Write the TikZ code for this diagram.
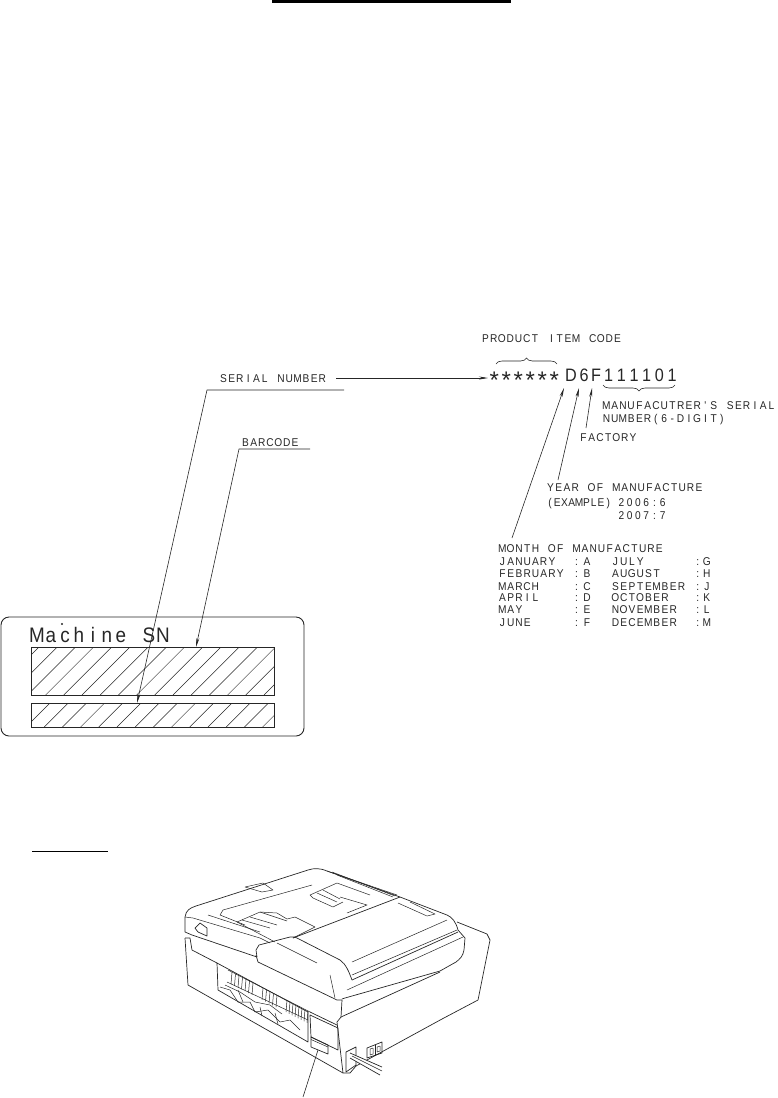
\documentclass[tikz,border=0pt]{standalone}
\usepackage{fontspec}
\usepackage{tikz}
\usetikzlibrary{arrows.meta,decorations.pathreplacing}
\setmainfont{Liberation Sans}
\newfontfamily\cadfont[FakeStretch=.9]{Liberation Sans}
% letters sit at a fixed pitch, as on a plotter
\makeatletter
\newcommand\pitched[2][8.25pt]{\@tfor\onechar:=#2\do{\makebox[#1][c]{\onechar}}}
\makeatother

\begin{document}
\begin{tikzpicture}[x=1pt,y=-1pt,>={Stealth[length=9pt,width=3pt]},line width=.6pt,black!85]
  \tikzstyle{every node}=[inner sep=0pt,anchor=base west,text=black!85]
  \tikzstyle{cad}=[font=\cadfont\fontsize{11.3}{12}\selectfont,yshift=-4pt,xshift=-1pt]
  \tikzstyle{code}=[font=\cadfont\fontsize{18}{18}\selectfont,yshift=-6.5pt,anchor=base]
  \tikzstyle{hatchbox}=[draw,anchor=north west]
  \tikzstyle{bracetip}=[decorate,decoration={brace,amplitude=6pt}]
  \tikzstyle{outer}=[line width=.7pt,line join=round]
  \tikzstyle{inner}=[line width=.5pt,line join=round]

  \useasboundingbox (0,0) rectangle (777,1098);

  \fill[black] (272,0) rectangle (511,3);
  \draw[black,line width=1pt] (32,851.5) -- (107.5,851.5);

  % labels on the right
  \node[cad] (itemcode) at (482,338) {\pitched{PRODUCT~ITEM~CODE}};
  \node[anchor=base west,font=\fontsize{24}{24}\selectfont] (stars) at (488,388.5) {\pitched[12pt]{******}};
  \node[code] (D) at (571,375) {D};
  \node[code] (six) at (584,375) {6};
  \node[code] (F) at (596,375) {F};
  \node[code,anchor=base west] (digits) at (602,375) {\pitched[12.7pt]{111101}};
  \node[cad] (serial1) at (603,405) {\pitched{MANUFACUTRER'S~SERIAL}};
  \node[cad] (serial2) at (603,418) {\pitched{NUMBER(6-DIGIT)}};
  \node[cad] (factory) at (580,437) {\pitched{FACTORY}};
  \node[cad] (year1) at (547,487) {\pitched{YEAR~OF~MANUFACTURE}};
  \node[cad] (year2) at (547,502) {\pitched[7.3pt]{(EXAMPLE)}};
  \node[cad] (y2006) at (618,502) {\pitched{2006:6}};
  \node[cad] (y2007) at (618,515) {\pitched{2007:7}};
  \node[cad] (month) at (499,548) {\pitched{MONTH~OF~MANUFACTURE}};

  \foreach \name/\code/\y in {JANUARY/A/561,FEBRUARY/B/573,MARCH/C/586,APRIL/D/597,MAY/E/609,JUNE/F/622}{
    \node[cad] (m\code) at (499,\y) {\expandafter\pitched\expandafter{\name}};
    \node[cad] (c\code) at (572,\y) {\pitched[10.5pt]{:\code}};
  }
  \foreach \name/\code/\y in {JULY/G/561,AUGUST/H/573,SEPTEMBER/J/586,OCTOBER/K/597,NOVEMBER/L/609,DECEMBER/M/622}{
    \node[cad] (m\code) at (612,\y) {\expandafter\pitched\expandafter{\name}};
    \node[cad] (c\code) at (694,\y) {\pitched[9pt]{:\code}};
  }

  \coordinate (bracea) at (496,364);
  \coordinate (braceb) at (557,364);
  \coordinate (bracec) at (675,385);
  \coordinate (braced) at (603,385);
  \draw[bracetip] (bracea) -- (braceb);
  \draw[bracetip] (bracec) -- (braced);

  \coordinate (monthtail) at (512,538);
  \coordinate (yeartail) at (558,480);
  \coordinate (factorytail) at (586,428);
  \coordinate (Dhead) at (564,388);
  \coordinate (sixhead) at (579,388);
  \coordinate (Fhead) at (592,388);
  \draw[->] (monthtail) -- (Dhead);
  \draw[->] (yeartail) -- (sixhead);
  \draw[->] (factorytail) -- (Fhead);

  % label plate
  \draw[line width=.9pt,rounded corners=8pt] (1,617) rectangle (304,736);
  \node[font=\cadfont\fontsize{21}{21}\selectfont] (machine) at (29.7,642) {\pitched[14pt]{Machine~SN}};
  \fill (62,624) circle (1.1pt);
  \node[hatchbox,minimum width=243pt,minimum height=48pt] (bigbar) at (31,647) {};
  \node[hatchbox,minimum width=243pt,minimum height=24pt] (smallbar) at (31,703) {};
  \begin{scope}
    \clip (31,647) rectangle (274,695);
    \foreach \x in {39,57.2,...,330}
      \draw[inner] (\x,647) -- (\x-48,695);
  \end{scope}
  \begin{scope}
    \clip (31,703) rectangle (274,727);
    \foreach \x in {50,68.2,...,310}
      \draw[inner] (\x,703) -- (\x-24,727);
  \end{scope}

  \node[cad] (serialno) at (220,378) {\pitched{SERIAL~NUMBER}};
  \node[cad] (barcode) at (242,442) {\pitched{BARCODE}};
  \coordinate (snarrow) at (336,378);
  \coordinate (starshead) at (488,378);
  \coordinate (snleft) at (207,390);
  \coordinate (snright) at (344,390);
  \coordinate (snhead) at (137,703);
  \coordinate (bcleft) at (239,449);
  \coordinate (bcright) at (310,449);
  \coordinate (bchead) at (196,647);
  \draw[->] (snarrow) -- (starshead);
  \draw[->] (snright) -- (snleft) -- (snhead);
  \draw[->] (bcright) -- (bcleft) -- (bchead);

  % the machine, cover first
  \draw[outer] (185,932) -- (185,917) .. controls (186,910) and (190,908) .. (196,906) -- (308,870) .. controls (314,868) and (320,868) .. (327,871) -- (400,897) -- (447,915) .. controls (452,917) and (456,922) .. (458,930) -- (465,938) -- (464,950) .. controls (463,956) and (460,959) .. (456,962) -- (440,971) -- (345,998) -- (342,999);
  \draw[outer] (185,932) -- (192,935) -- (257,957);
  \draw[inner] (185,917) -- (193,918) -- (260,938) -- (270,943);
  \draw[inner] (208,915) -- (260,932);
  % body
  \draw[outer] (185,938) -- (190,938) -- (192,950) -- (217,963);
  \draw[outer] (185,938) -- (188,985) -- (343,1073) -- (350,1073) -- (356,1066) -- (442,1019) -- (478,1000) -- (490,940) -- (487,934) -- (457,922);
  \draw[outer] (342,1000) -- (341,1017) -- (337,1022) -- (343,1073);
  \draw[outer] (341,1017) -- (440,972);
  % document feeder
  \draw[outer] (257,957) -- (256,950) -- (259,945) -- (290,937) -- (295,937) -- (340,960) .. controls (346,964) and (349,972) .. (352,980);
  \draw[outer] (256,955) -- (258,962) -- (337,1000) -- (342,1000);
  \draw[outer] (352,980) -- (458,932);
  \draw[inner] (352,975) -- (457,930);
  \draw[inner] (347,990) -- (463,937);
  \draw[inner] (352,962) -- (447,920);
  \draw[inner] (277,943) -- (317,963);
  \draw[inner] (330,975) -- (335,998);
  \draw[outer] (293,938) -- (400,897);
  \draw[inner] (398,903) -- (427,916) -- (435,914) -- (410,902);
  % trays
  \draw[inner] (223,910) -- (312,885);
  \draw[inner] (220,915) -- (245,925);
  \draw[inner] (220,915) -- (223,910);
  \draw[inner] (237,922) -- (260,912) -- (277,913) -- (287,919) -- (295,917) -- (315,927) -- (293,938);
  \draw[inner] (237,922) -- (275,942);
  \draw[inner] (242,920) -- (270,928);
  \draw[inner] (250,917) -- (277,925);
  \draw[inner] (260,912) -- (287,921);
  \draw[inner] (245,887) -- (263,883) -- (273,890) -- (262,892) -- cycle;
  \draw[inner] (310,895) -- (337,883) -- (370,895);
  \draw[inner] (310,895) -- (313,898) -- (333,907) -- (343,902);
  \draw[inner] (317,893) -- (337,902);
  \draw[inner] (323,890) -- (340,899);
  \draw[inner] (340,897) -- (367,905) -- (347,913);
  \draw[inner] (327,871) -- (397,895);
  \draw[inner] (337,875) -- (393,897);
  \draw[inner] (332,872) -- (395,896);
  % latch
  \draw[outer] (195,928) -- (200,923) -- (207,928) -- (207,936) -- (198,932) -- cycle;
  % jam clearance opening
  \draw[outer] (217,963) -- (308,1012) -- (308,1042) -- (218,990) -- cycle;
  \draw[inner] (228,970) -- (310,1012);
  \draw[inner] (227,982) -- (308,1020);
  \foreach \a in {232,235.5,...,255,263,266.5,...,280,287,290,...,308}
    \draw[inner] (\a,{970+(\a-228)*.512}) -- ++(-1,12);
  \draw[inner] (220,987) -- (230,990) -- (238,1002) -- (250,1002) -- (255,1012) -- (268,1010) -- (280,1022) -- (290,1020) -- (300,1030);
  \draw[inner] (225,985) -- (240,992) -- (255,1002) -- (270,1005) -- (282,1014);
  \draw[inner] (238,990) -- (243,1002);
  \draw[inner] (260,1007) -- (262,1016);
  \draw[inner] (275,1013) -- (278,1024);
  % rear panel and its label
  \draw[outer] (310,1012) -- (337,1025);
  \draw[outer] (310,1015) -- (338,1028) -- (338,1050) -- (311,1037) -- cycle;
  \draw[outer] (311,1037) -- (328,1045) -- (328,1054) -- (311,1047) -- cycle;
  \draw[inner] (311,1039.5) -- (328,1047);
  % sockets and cord
  \draw[outer] (346,1052) -- (356,1047) -- (356,1065) -- (346,1072) -- cycle;
  \draw[outer] (367,1048) -- (382,1042) -- (382,1053) -- (367,1058) -- cycle;
  \draw[inner] (375,1045) -- (375,1055);
  \draw[inner] (370,1049) -- (373,1048) -- (373,1054) -- (370,1055) -- cycle;
  \draw[inner] (377,1047) -- (380,1046) -- (380,1051) -- (377,1052) -- cycle;
  \fill[white] (350,1053) -- (382,1067) -- (380,1075) -- (350,1058) -- cycle;
  \draw[outer] (350,1053) -- (382,1067);
  \draw[outer] (350,1058) -- (380,1075);
  \draw[inner] (352,1056) -- (382,1071);
  \coordinate (labeltop) at (318,1050);
  \coordinate (labelfoot) at (303,1097);
  \draw (labeltop) -- (labelfoot);
\end{tikzpicture}
\end{document}
